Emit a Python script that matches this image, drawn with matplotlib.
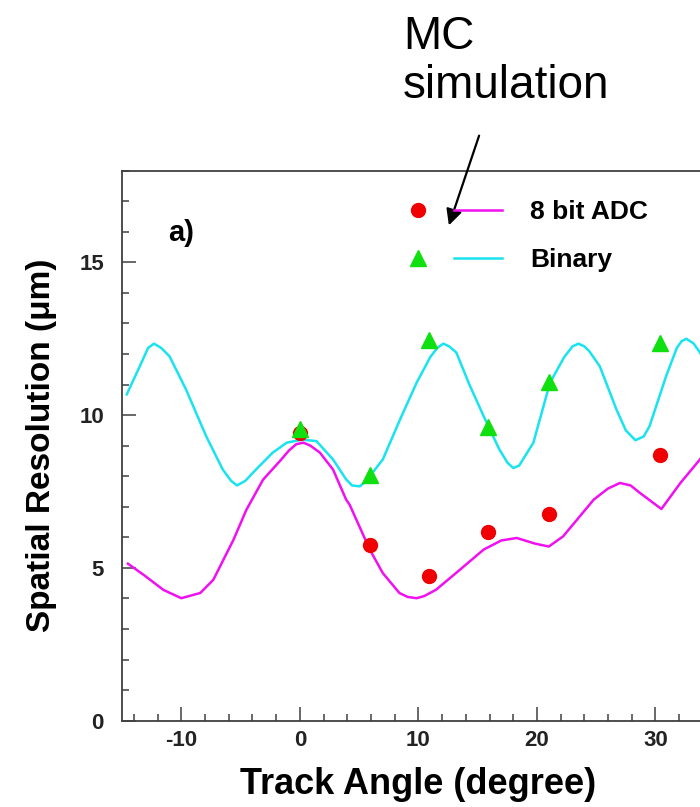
import matplotlib
matplotlib.use('Agg')
import matplotlib.pyplot as plt
from matplotlib.lines import Line2D
from matplotlib.legend_handler import HandlerTuple

plt.rcParams['font.family'] = ['Liberation Sans', 'DejaVu Sans']
plt.rcParams['axes.unicode_minus'] = False

# Measured points (track angle in degrees, resolution in um)
adc_angle = [0.0, 5.9, 10.9, 15.9, 21.0, 30.4]
adc_res = [9.4, 5.76, 4.72, 6.16, 6.78, 8.71]
bin_angle = [0.0, 5.9, 10.9, 15.9, 21.0, 30.4]
bin_res = [9.55, 8.05, 12.46, 9.62, 11.1, 12.35]

# MC simulation curves
mc_bin_angle = [-14.6, -13.5, -12.8, -12.3, -11.7, -11.0, -9.6, -7.9, -6.5, -5.8,
                -5.3, -4.6, -3.7, -2.3, -1.1, 0.2, 1.4, 2.8, 3.9, 4.4,
                5.06, 5.6, 7.0, 8.5, 9.85, 11.0, 11.6, 12.1, 12.6, 13.2, 14.3, 15.5,
                16.8, 17.5, 18.0, 18.5, 18.9, 19.7, 21.1, 22.3, 23.0, 23.5, 24.0, 24.4, 25.3, 26.7,
                27.5, 28.3, 29.0, 29.5, 30.9, 31.8, 32.2, 32.6, 33.2, 33.75, 34.5]
mc_bin_res = [10.68, 11.6, 12.2, 12.34, 12.2, 11.93, 10.84, 9.31, 8.22, 7.85,
              7.7, 7.85, 8.22, 8.77, 9.1, 9.2, 9.15, 8.55, 7.9, 7.7,
              7.67, 7.85, 8.55, 9.9, 11.06, 11.9, 12.2, 12.34, 12.25, 12.05, 11.0, 9.97,
              8.9, 8.45, 8.27, 8.35, 8.6, 9.1, 11.06, 11.9, 12.25, 12.34, 12.25, 12.1, 11.6, 10.19,
              9.5, 9.18, 9.3, 9.64, 11.28, 12.2, 12.42, 12.5, 12.35, 12.05, 11.5]
mc_adc_angle = [-14.5, -13.2, -11.5, -10.0, -8.4, -7.3, -5.6, -4.5, -3.1, -1.7,
                -0.9, -0.3, 0.3, 0.9, 1.7, 2.8, 3.9, 4.2, 5.9, 7.0, 8.4, 9.1, 9.85, 10.5,
                11.5, 13.5, 15.5, 17.0, 18.3, 19.8, 21.0, 22.2, 24.8, 26.0,
                27.0, 27.9, 28.7, 30.5, 32.1, 33.75, 34.5]
mc_adc_res = [5.14, 4.78, 4.28, 4.01, 4.18, 4.61, 5.92, 6.91, 7.89, 8.49,
              8.85, 9.05, 9.1, 9.0, 8.77, 8.22, 7.24, 7.07, 5.6, 4.83, 4.18, 4.05, 4.01, 4.08,
              4.29, 4.94, 5.6, 5.9, 5.98, 5.8, 5.7, 6.03, 7.24, 7.6,
              7.78, 7.7, 7.45, 6.93, 7.78, 8.55, 9.0]

x_ticks = [-10, 0, 10, 20, 30]
y_ticks = [0, 5, 10, 15]

fig = plt.figure(figsize=(7, 8.07), dpi=100)
ax = fig.add_axes([0.1743, 0.1069, 0.8468, 0.6816])

cyan = '#19e3ef'
magenta = '#f010f0'
red = '#f00000'
green = '#10e010'

ax.plot(mc_bin_angle, mc_bin_res, color=cyan, lw=1.8, zorder=2,
        solid_joinstyle='round')
ax.plot(mc_adc_angle, mc_adc_res, color=magenta, lw=1.8, zorder=2,
        solid_joinstyle='round')
ax.plot(adc_angle, adc_res, 'o', color=red, ms=10, zorder=3)
ax.plot(bin_angle, bin_res, '^', color=green, ms=11, zorder=4)

ax.set_xlim(-15, 35)
ax.set_ylim(0, 18)
ax.set_xticks(x_ticks)
ax.set_yticks(y_ticks)
ax.set_xticks(range(-14, 35, 2), minor=True)
ax.set_yticks(range(0, 19), minor=True)
ax.tick_params(which='both', direction='in', color='#404040', width=1.1,
               top=False, right=False)
ax.tick_params(which='major', length=10)
ax.tick_params(which='minor', length=5)
ax.tick_params(axis='y', which='major', pad=13)
ax.tick_params(axis='x', which='major', pad=7)
for lab in ax.get_xticklabels() + ax.get_yticklabels():
    lab.set_fontsize(16)
    lab.set_fontweight('bold')
    lab.set_color('#222222')
for side in ['left', 'bottom', 'top']:
    ax.spines[side].set_color('#404040')
    ax.spines[side].set_linewidth(1.3)
ax.spines['right'].set_visible(False)

ax.set_xlabel('Track Angle (degree)', fontsize=26, fontweight='bold', labelpad=11)
ax.set_ylabel('Spatial Resolution (\u03bcm)', fontsize=24, fontweight='bold', labelpad=16)

ax.text(0.1, 0.887, 'a)', transform=ax.transAxes, fontsize=21,
        fontweight='bold', ha='center', va='center')

h_adc = (Line2D([], [], marker='o', ls='none', color=red, ms=10),
         Line2D([], [], color=magenta, lw=1.8))
h_bin = (Line2D([], [], marker='^', ls='none', color=green, ms=11),
         Line2D([], [], color=cyan, lw=1.8))
leg = ax.legend([h_adc, h_bin], ['8 bit ADC', 'Binary'],
                handler_map={tuple: HandlerTuple(ndivide=None, pad=0.42)},
                loc='upper left', bbox_to_anchor=(394 / 700, 0.752),
                bbox_transform=fig.transFigure, frameon=False,
                prop={'size': 19, 'weight': 'bold'}, handlelength=4.1,
                handletextpad=1.05, labelspacing=0.9, borderpad=0,
                borderaxespad=0)

fig.text(403 / 700, 1 - 15 / 807, 'MC\nsimulation', fontsize=33,
         ha='left', va='top', linespacing=1.15)
ax.annotate('', xy=(448 / 700, 1 - 228 / 807), xycoords='figure fraction',
            xytext=(480 / 700, 1 - 133 / 807), textcoords='figure fraction',
            arrowprops=dict(arrowstyle='-|>', color='black', lw=1.6,
                            mutation_scale=24))

fig.savefig('out.png', dpi=100)
